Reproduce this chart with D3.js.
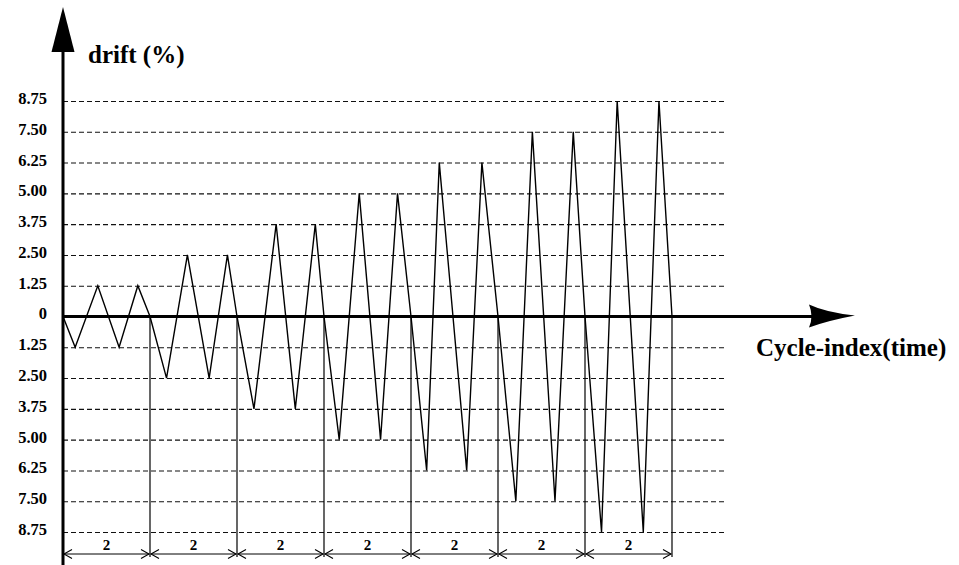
<!DOCTYPE html>
<html>
<head>
<meta charset="utf-8">
<script src="https://cdn.jsdelivr.net/npm/d3@7"></script>
<style>
  html, body { margin: 0; padding: 0; background: #fff; }
  svg { display: block; }
  text { font-family: "Liberation Serif", "Times New Roman", serif; font-weight: bold; fill: #000; }
</style>
</head>
<body>
<svg id="chart" width="959" height="565"></svg>
<script>
// Loading protocol: drift amplitude steps, two cycles per step.
// Vertex times (in cycle-index units) and the drift reached at each vertex.
const cycleTime = [
  0, 0.28, 0.8, 1.29, 1.72, 2,
  2.38, 2.86, 3.36, 3.78, 4,
  4.39, 4.9, 5.34, 5.8, 6,
  6.35, 6.81, 7.3, 7.69, 8,
  8.36, 8.65, 9.28, 9.63, 10,
  10.41, 10.79, 11.31, 11.73, 12,
  12.38, 12.74, 13.34, 13.7, 14
];
const driftValue = [
  0, -1.25, 1.25, -1.25, 1.25, 0,
  -2.5, 2.5, -2.5, 2.5, 0,
  -3.75, 3.75, -3.75, 3.75, 0,
  -5, 5, -5, 5, 0,
  -6.25, 6.25, -6.25, 6.25, 0,
  -7.5, 7.5, -7.5, 7.5, 0,
  -8.75, 8.75, -8.75, 8.75, 0
];
// Drift levels marked on the vertical axis
const driftTicks = [8.75, 7.5, 6.25, 5, 3.75, 2.5, 1.25, 0, -1.25, -2.5, -3.75, -5, -6.25, -7.5, -8.75];
// Amplitude steps: start of each step and the number of cycles it holds
const stepStart = [0, 2, 4, 6, 8, 10, 12];
const stepCycles = [2, 2, 2, 2, 2, 2, 2];

const svg = d3.select("#chart");

const x = d3.scaleLinear().domain([0, 14]).range([63, 672]);
const y = d3.scaleLinear().domain([-8.75, 8.75]).range([532, 101]);
const gridEnd = 727;

// Dashed reference levels with their labels (absolute drift values)
const yAxis = d3.axisLeft(y)
  .tickValues(driftTicks)
  .tickSizeInner(-(gridEnd - x(0)))
  .tickSizeOuter(0)
  .tickPadding(16)
  .tickFormat(d => d === 0 ? "0" : Math.abs(d).toFixed(2));

const gAxis = svg.append("g")
  .attr("transform", `translate(${x(0)},0)`)
  .call(yAxis);
gAxis.select(".domain").remove();
gAxis.selectAll(".tick line")
  .attr("stroke", d => d === 0 ? "none" : "#111")
  .attr("stroke-width", 1.1)
  .attr("stroke-dasharray", "5,3");
gAxis.selectAll(".tick text")
  .attr("font-family", "Liberation Serif, serif")
  .attr("font-weight", "bold")
  .attr("font-size", 16.5)
  .attr("fill", "#000")
  .attr("dy", "0.15em");

// Vertical step boundaries below the zero line
const boundaries = stepStart.slice(1).concat([stepStart[stepStart.length - 1] + stepCycles[stepCycles.length - 1]]);
svg.append("g").selectAll("line")
  .data(boundaries)
  .join("line")
  .attr("x1", d => x(d)).attr("x2", d => x(d))
  .attr("y1", y(0)).attr("y2", 557)
  .attr("stroke", "#000").attr("stroke-width", 1.2);

// Dimension arrows marking the cycles of each step
const dimY = 554;
const dim = svg.append("g");
stepStart.forEach((s, i) => {
  const x0 = x(s), x1 = x(s + stepCycles[i]);
  dim.append("line")
    .attr("x1", x0 + 1).attr("x2", x1 - 1)
    .attr("y1", dimY).attr("y2", dimY)
    .attr("stroke", "#000").attr("stroke-width", 1);
  dim.append("path")
    .attr("d", `M${x0 + 9},${dimY - 4.5} L${x0 + 1},${dimY} L${x0 + 9},${dimY + 4.5}`)
    .attr("fill", "none").attr("stroke", "#000").attr("stroke-width", 1.1);
  dim.append("path")
    .attr("d", `M${x1 - 9},${dimY - 4.5} L${x1 - 1},${dimY} L${x1 - 9},${dimY + 4.5}`)
    .attr("fill", "none").attr("stroke", "#000").attr("stroke-width", 1.1);
  dim.append("text")
    .attr("x", (x0 + x1) / 2).attr("y", dimY - 4)
    .attr("text-anchor", "middle")
    .attr("font-size", 15)
    .text(stepCycles[i]);
});

// Drift history
const line = d3.line().x((d, i) => x(cycleTime[i])).y(d => y(d));
svg.append("path")
  .datum(driftValue)
  .attr("d", line)
  .attr("fill", "none")
  .attr("stroke", "#000")
  .attr("stroke-width", 1.4)
  .attr("stroke-linejoin", "miter");

// Horizontal (time) axis with arrow
const y0 = y(0);
svg.append("line")
  .attr("x1", x(0)).attr("x2", 812)
  .attr("y1", y0).attr("y2", y0)
  .attr("stroke", "#000").attr("stroke-width", 3);
svg.append("path")
  .attr("d", `M809,${y0 - 12} Q826,${y0 - 4} 855,${y0 - 1} Q828,${y0 + 4} 809,${y0 + 11} Q814,${y0} 809,${y0 - 12} Z`)
  .attr("fill", "#000");
svg.append("text")
  .attr("x", 756).attr("y", 356)
  .attr("font-size", 25)
  .text("Cycle-index(time)");

// Vertical (drift) axis with arrow
svg.append("line")
  .attr("x1", x(0)).attr("x2", x(0))
  .attr("y1", 50).attr("y2", 565)
  .attr("stroke", "#000").attr("stroke-width", 3);
svg.append("path")
  .attr("d", `M${x(0)},7 L${x(0) + 11.5},52 L${x(0) - 11.5},52 Z`)
  .attr("fill", "#000");
svg.append("text")
  .attr("x", 88).attr("y", 63)
  .attr("font-size", 25)
  .text("drift (%)");
</script>
</body>
</html>
